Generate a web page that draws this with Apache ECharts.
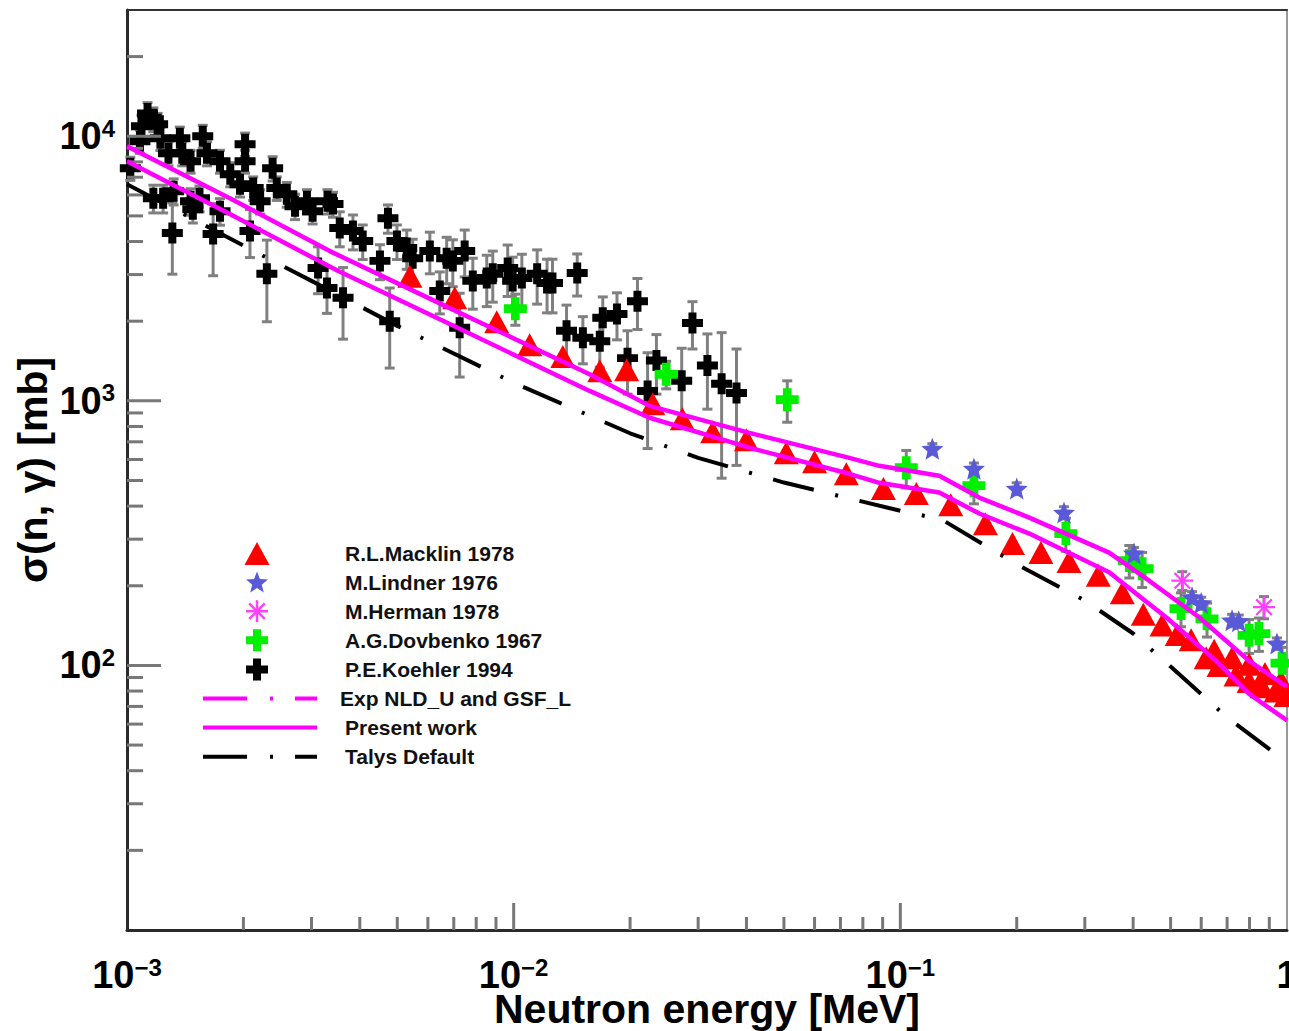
<!DOCTYPE html>
<html>
<head>
<meta charset="utf-8">
<script src="https://cdn.jsdelivr.net/npm/echarts@6/dist/echarts.min.js"></script>
<style>
  html, body { margin: 0; padding: 0; width: 100%; height: 100%; overflow: hidden; background: #fff; }
  #chart { width: 100%; height: 100%; }
</style>
</head>
<body>
<div id="chart"></div>
<script>
// Neutron capture cross section: energy [MeV], sigma [mb], error [mb]

const koehler1994 = [
  [0.00102, 7570, 760], [0.00108, 9580, 960], [0.00109, 10900, 1100], [0.00113, 12200, 1200],
  [0.00117, 11600, 1200], [0.00120, 11100, 1100], [0.00117, 5830, 700], [0.00122, 9830, 1000],
  [0.00124, 5830, 700], [0.00128, 8630, 900], [0.00131, 4310, 1300], [0.00132, 6200, 700],
  [0.00137, 9830, 1000], [0.00139, 8630, 900], [0.00146, 8050, 800], [0.00146, 5680, 650],
  [0.00148, 5300, 600], [0.00154, 5830, 650], [0.00157, 10000, 1000], [0.00161, 8630, 900],
  [0.00167, 4270, 1300], [0.00174, 8050, 800], [0.00174, 5210, 600], [0.00185, 7190, 750],
  [0.00196, 6590, 700], [0.00202, 9330, 950], [0.00202, 8050, 800], [0.00208, 4380, 900],
  [0.00212, 6370, 650], [0.00221, 5680, 600], [0.00230, 3020, 1030], [0.00238, 7570, 800],
  [0.00244, 6370, 650], [0.00259, 6040, 650], [0.00272, 5440, 600], [0.00292, 5680, 600],
  [0.00302, 5210, 550], [0.00312, 3180, 640], [0.00329, 2670, 530], [0.00330, 5680, 600],
  [0.00341, 5540, 600], [0.00355, 4500, 680], [0.00362, 2450, 740], [0.00384, 4380, 660],
  [0.00407, 4020, 600], [0.00451, 3380, 510], [0.00473, 4900, 600], [0.00478, 2000, 670],
  [0.00499, 4020, 600], [0.00529, 3780, 640], [0.00548, 3460, 620], [0.00607, 3680, 660],
  [0.00644, 2600, 470], [0.00671, 3460, 690], [0.00696, 3380, 680], [0.00725, 1890, 660],
  [0.00747, 3680, 740], [0.00784, 2840, 620], [0.00852, 2910, 640], [0.00883, 3020, 660],
  [0.00965, 3180, 700], [0.00994, 2840, 650], [0.0105, 2910, 670], [0.0115, 3020, 700],
  [0.0122, 2790, 640], [0.0126, 2790, 640], [0.0137, 1840, 460], [0.0146, 3040, 550],
  [0.0151, 1730, 350], [0.0167, 1680, 340], [0.0170, 2060, 410], [0.0185, 2130, 430],
  [0.0197, 1450, 390], [0.0209, 2380, 520], [0.0222, 1090, 430], [0.0234, 1420, 360],
  [0.0272, 1190, 390], [0.0290, 1970, 400], [0.0317, 1360, 430], [0.0345, 1160, 650],
  [0.0377, 1070, 500]
];

const dovbenko1967 = [
  [0.0101, 2230, 300], [0.0248, 1260, 150], [0.0510, 1010, 180], [0.1036, 559, 90],
  [0.155, 478, 70], [0.268, 315, 45], [0.391, 249, 35], [0.422, 232, 35], [0.532, 164, 24],
  [0.621, 150, 22], [0.798, 130, 19], [0.846, 132, 19], [0.971, 102, 15]
];

const lindner1976 = [
  [0.121, 659, 30], [0.155, 554, 28], [0.200, 466, 24], [0.265, 378, 20], [0.402, 265, 14],
  [0.568, 181, 9], [0.600, 172, 9], [0.721, 148, 8], [0.750, 147, 8], [0.942, 121, 6]
];

const herman1978 = [
  [0.536, 209, 17], [0.872, 166, 16]
];

const macklin1978 = [
  [0.00539, 2960], [0.00704, 2450], [0.00904, 1990], [0.0110, 1630], [0.0134, 1470],
  [0.0167, 1300], [0.0196, 1310], [0.0229, 974], [0.0273, 855], [0.0327, 764],
  [0.0400, 712], [0.0507, 637], [0.0600, 589], [0.0725, 530], [0.0904, 466],
  [0.110, 446], [0.135, 405], [0.166, 343], [0.195, 289], [0.231, 267], [0.273, 247],
  [0.325, 219], [0.375, 188], [0.425, 156], [0.475, 142], [0.520, 131], [0.565, 125],
  [0.618, 107], [0.648, 114], [0.667, 100], [0.721, 107], [0.738, 92], [0.798, 101],
  [0.798, 87], [0.862, 83], [0.877, 93.3], [0.937, 80], [0.965, 87.4], [0.994, 77]
];

const expNldUGsfL = [
  [0.001, 9170], [0.001845, 5830], [0.003345, 3680], [0.006835, 2240], [0.01572, 1260],
  [0.02246, 957], [0.0407, 757], [0.0738, 609], [0.0882, 568], [0.1261, 521], [0.16, 431],
  [0.2155, 362], [0.3467, 267], [0.44, 209], [0.5924, 152], [0.798, 104], [1.0, 83]
];

const presentWork = [
  [0.001, 8050], [0.001845, 5080], [0.003509, 3100], [0.006835, 1950], [0.01572, 1090],
  [0.02246, 863], [0.0407, 665], [0.0738, 530], [0.0882, 490], [0.1261, 450], [0.16, 375],
  [0.2155, 315], [0.3467, 225], [0.4867, 152], [0.6555, 104], [0.798, 78], [1.0, 62]
];

const talysDefault = [
  [0.001, 6590], [0.002, 3860], [0.003, 2840], [0.005, 1920], [0.01, 1170], [0.02, 754],
  [0.03, 609], [0.05, 491], [0.1, 384], [0.128, 356], [0.2, 241], [0.3, 176], [0.4, 132],
  [0.5, 99], [0.7, 63.6], [1.0, 43]
];

// Axis ranges and tick positions
const X_MIN = 1e-3, X_MAX = 1, Y_MIN = 10, Y_MAX = 30000;
const xMajorTicks = [0.01, 0.1];
const xMinorTicks = [0.002, 0.003, 0.004, 0.005, 0.006, 0.007, 0.008, 0.009,
  0.02, 0.03, 0.04, 0.05, 0.06, 0.07, 0.08, 0.09,
  0.2, 0.3, 0.4, 0.5, 0.6, 0.7, 0.8, 0.9];
const yMajorTicks = [100, 1000, 10000];
const yMinorTicks = [20, 30, 40, 50, 60, 70, 80, 90,
  200, 300, 400, 500, 600, 700, 800, 900,
  2000, 3000, 4000, 5000, 6000, 7000, 8000, 9000, 20000];

const legendEntries = [
  { label: 'R.L.Macklin 1978', kind: 'triangle', color: '#ff0000' },
  { label: 'M.Lindner 1976', kind: 'star', color: '#5a5ad8' },
  { label: 'M.Herman 1978', kind: 'asterisk', color: '#ff40ff' },
  { label: 'A.G.Dovbenko 1967', kind: 'plus', color: '#00f000' },
  { label: 'P.E.Koehler 1994', kind: 'plus', color: '#000000' },
  { label: 'Exp NLD_U and GSF_L', kind: 'dashdot', color: '#ff00ff' },
  { label: 'Present work', kind: 'solid', color: '#ff00ff' },
  { label: 'Talys Default', kind: 'dashdot', color: '#000000' }
];

const FONT = '"Liberation Sans", Arial, Helvetica, sans-serif';
const TICK_COLOR = '#777777';
const BAR_COLOR = '#808080';

const PLUS_PATH = 'path://M31,0H69V31H100V69H69V100H31V69H0V31H31Z';
const STAR_PATH = 'path://M50,0L62.93,32.2L97.55,34.55L70.92,56.8L79.39,90.45L50,72L20.61,90.45L29.08,56.8L2.45,34.55L37.07,32.2Z';
const ASTERISK_PATH = 'path://M0,45H100V55H0ZM45,0H55V100H45ZM18.18,11.11L88.89,81.82L81.82,88.89L11.11,18.18ZM81.82,11.11L88.89,18.18L18.18,88.89L11.11,81.82Z';

function expLabel(v) {
  const e = Math.round(Math.log10(v));
  if (e === 0) return '{b|1}';
  const s = e < 0 ? '\u2212' + (-e) : String(e);
  return '{b|10}{s|' + s + '}';
}

function errorBars(data, z) {
  return {
    type: 'custom',
    z: z,
    silent: true,
    data: data.map(d => [d[0], d[1] - d[2], d[1] + d[2]]),
    encode: { x: 0, y: [1, 2] },
    renderItem: function (params, api) {
      const lo = api.coord([api.value(0), api.value(1)]);
      const hi = api.coord([api.value(0), api.value(2)]);
      const c = 5;
      const st = { stroke: BAR_COLOR, lineWidth: 3 };
      return {
        type: 'group',
        children: [
          { type: 'line', shape: { x1: lo[0], y1: lo[1], x2: hi[0], y2: hi[1] }, style: st },
          { type: 'line', shape: { x1: lo[0] - c, y1: lo[1], x2: lo[0] + c, y2: lo[1] }, style: st },
          { type: 'line', shape: { x1: hi[0] - c, y1: hi[1], x2: hi[0] + c, y2: hi[1] }, style: st }
        ]
      };
    }
  };
}

function tickSeries(values, horizontal, len) {
  return {
    type: 'custom',
    z: 6,
    silent: true,
    data: values.map(v => horizontal ? [v, Y_MIN] : [X_MIN, v]),
    renderItem: function (params, api) {
      const p = api.coord([api.value(0), api.value(1)]);
      const shape = horizontal
        ? { x1: p[0], y1: p[1], x2: p[0], y2: p[1] - len }
        : { x1: p[0], y1: p[1], x2: p[0] + len, y2: p[1] };
      return { type: 'line', shape: shape, style: { stroke: TICK_COLOR, lineWidth: 3 } };
    }
  };
}

function scatter(name, data, symbol, size, color, z) {
  return {
    name: name,
    type: 'scatter',
    z: z,
    symbol: symbol,
    symbolSize: size,
    data: data.map(d => [d[0], d[1]]),
    itemStyle: { color: color, opacity: 1 },
    silent: true
  };
}

function line(name, data, color, width, type) {
  return {
    name: name,
    type: 'line',
    z: 8,
    data: data,
    showSymbol: false,
    symbol: 'none',
    lineStyle: { color: color, width: width, type: type, cap: 'butt' },
    silent: true
  };
}

// Legend drawn as graphic elements
function legendGraphics() {
  const els = [];
  const mx = 257, x0 = 203, x1 = 317;
  legendEntries.forEach((e, i) => {
    const y = 553 + i * 29.1;
    const tx = e.kind === 'dashdot' && e.color === '#ff00ff' ? 340 : 345;
    els.push({
      type: 'text', x: tx, y: y,
      style: { text: e.label, fontSize: 21, fontWeight: 'bold', fontFamily: FONT,
        fill: '#111', align: 'left', verticalAlign: 'middle' }
    });
    if (e.kind === 'triangle') {
      els.push({ type: 'polygon', shape: { points: [[mx, y - 11], [mx + 12.5, y + 12], [mx - 12.5, y + 12]] },
        style: { fill: e.color } });
    } else if (e.kind === 'star') {
      const pts = [];
      for (let k = 0; k < 10; k++) {
        const a = -Math.PI / 2 + k * Math.PI / 5;
        const r = k % 2 === 0 ? 11.5 : 5;
        pts.push([mx + r * Math.cos(a), y + 1 + r * Math.sin(a)]);
      }
      els.push({ type: 'polygon', shape: { points: pts }, style: { fill: e.color } });
    } else if (e.kind === 'asterisk') {
      for (let k = 0; k < 4; k++) {
        const a = k * Math.PI / 4;
        const dx = 11 * Math.cos(a), dy = 11 * Math.sin(a);
        els.push({ type: 'line', shape: { x1: mx - dx, y1: y - dy, x2: mx + dx, y2: y + dy },
          style: { stroke: e.color, lineWidth: 2.5 } });
      }
    } else if (e.kind === 'plus') {
      const s = 11, h = 4;
      els.push({ type: 'polygon', shape: { points: [
        [mx - h, y - s], [mx + h, y - s], [mx + h, y - h], [mx + s, y - h], [mx + s, y + h],
        [mx + h, y + h], [mx + h, y + s], [mx - h, y + s], [mx - h, y + h], [mx - s, y + h],
        [mx - s, y - h], [mx - h, y - h]] }, style: { fill: e.color } });
    } else {
      els.push({ type: 'line', shape: { x1: x0, y1: y, x2: x1, y2: y },
        style: { stroke: e.color, lineWidth: 4, lineDash: e.kind === 'dashdot' ? [44, 23, 3, 22] : null } });
    }
  });
  return els;
}

const labelRichY = {
  b: { fontSize: 38, fontWeight: 'bold', fontFamily: FONT, color: '#000', lineHeight: 40 },
  s: { fontSize: 24, fontWeight: 'bold', fontFamily: FONT, color: '#000', lineHeight: 22, verticalAlign: 'top' }
};
const labelRichX = {
  b: { fontSize: 38, fontWeight: 'bold', fontFamily: FONT, color: '#000', lineHeight: 40 },
  s: { fontSize: 24, fontWeight: 'bold', fontFamily: FONT, color: '#000', lineHeight: 14, verticalAlign: 'top' }
};

const chart = echarts.init(document.getElementById('chart'), null, { renderer: 'svg' });

chart.setOption({
  backgroundColor: '#ffffff',
  animation: false,
  grid: { left: 127, right: 2, top: 10, bottom: 101, containLabel: false, outerBoundsMode: 'none' },
  xAxis: [
    {
      type: 'log', logBase: 10, min: X_MIN, max: X_MAX,
      name: 'Neutron energy [MeV]', nameLocation: 'middle', nameGap: 61, nameMoveOverlap: false,
      nameTextStyle: { fontSize: 41, fontWeight: 'bold', fontFamily: FONT, color: '#000', lineHeight: 36 },
      axisLine: { show: true, lineStyle: { color: '#2a2a2a', width: 3 } },
      axisTick: { show: false },
      splitLine: { show: false },
      axisLabel: { formatter: expLabel, rich: labelRichX, margin: 25, showMinLabel: true, showMaxLabel: true }
    },
    {
      type: 'log', logBase: 10, min: X_MIN, max: X_MAX, position: 'top',
      axisLine: { show: true, lineStyle: { color: '#333', width: 2 } },
      axisTick: { show: false }, axisLabel: { show: false }, splitLine: { show: false }
    }
  ],
  yAxis: [
    {
      type: 'log', logBase: 10, min: Y_MIN, max: Y_MAX,
      name: '\u03c3(n, \u03b3) [mb]', nameLocation: 'middle', nameGap: 74, nameRotate: 90, nameMoveOverlap: false,
      nameTextStyle: { fontSize: 41, fontWeight: 'bold', fontFamily: FONT, color: '#000' },
      axisLine: { show: true, lineStyle: { color: '#2a2a2a', width: 3 } },
      axisTick: { show: false },
      splitLine: { show: false },
      axisLabel: { formatter: expLabel, rich: labelRichY, margin: 12, showMinLabel: false, showMaxLabel: false }
    },
    {
      type: 'log', logBase: 10, min: Y_MIN, max: Y_MAX, position: 'right',
      axisLine: { show: true, lineStyle: { color: '#999', width: 2 } },
      axisTick: { show: false }, axisLabel: { show: false }, splitLine: { show: false }
    }
  ],
  graphic: { elements: legendGraphics() },
  series: [
    tickSeries(xMajorTicks, true, 27),
    tickSeries(xMinorTicks, true, 13),
    tickSeries(yMajorTicks, false, 34),
    tickSeries(yMinorTicks, false, 16),
    errorBars(koehler1994, 1),
    errorBars(dovbenko1967, 1),
    errorBars(lindner1976, 1),
    errorBars(herman1978, 1),
    scatter('P.E.Koehler 1994', koehler1994, PLUS_PATH, 21, '#000000', 2),
    scatter('R.L.Macklin 1978', macklin1978, 'triangle', [25, 23], '#ff0000', 3),
    scatter('A.G.Dovbenko 1967', dovbenko1967, PLUS_PATH, 23, '#00f000', 4),
    scatter('M.Lindner 1976', lindner1976, STAR_PATH, 22, '#5a5ad8', 4),
    scatter('M.Herman 1978', herman1978, ASTERISK_PATH, 22, '#ff40ff', 4),
    line('Talys Default', talysDefault, '#000000', 4, [42, 22, 3, 22]),
    line('Exp NLD_U and GSF_L', expNldUGsfL, '#ff00ff', 4.5, 'solid'),
    line('Present work', presentWork, '#ff00ff', 4.5, 'solid')
  ]
});
</script>
</body>
</html>
